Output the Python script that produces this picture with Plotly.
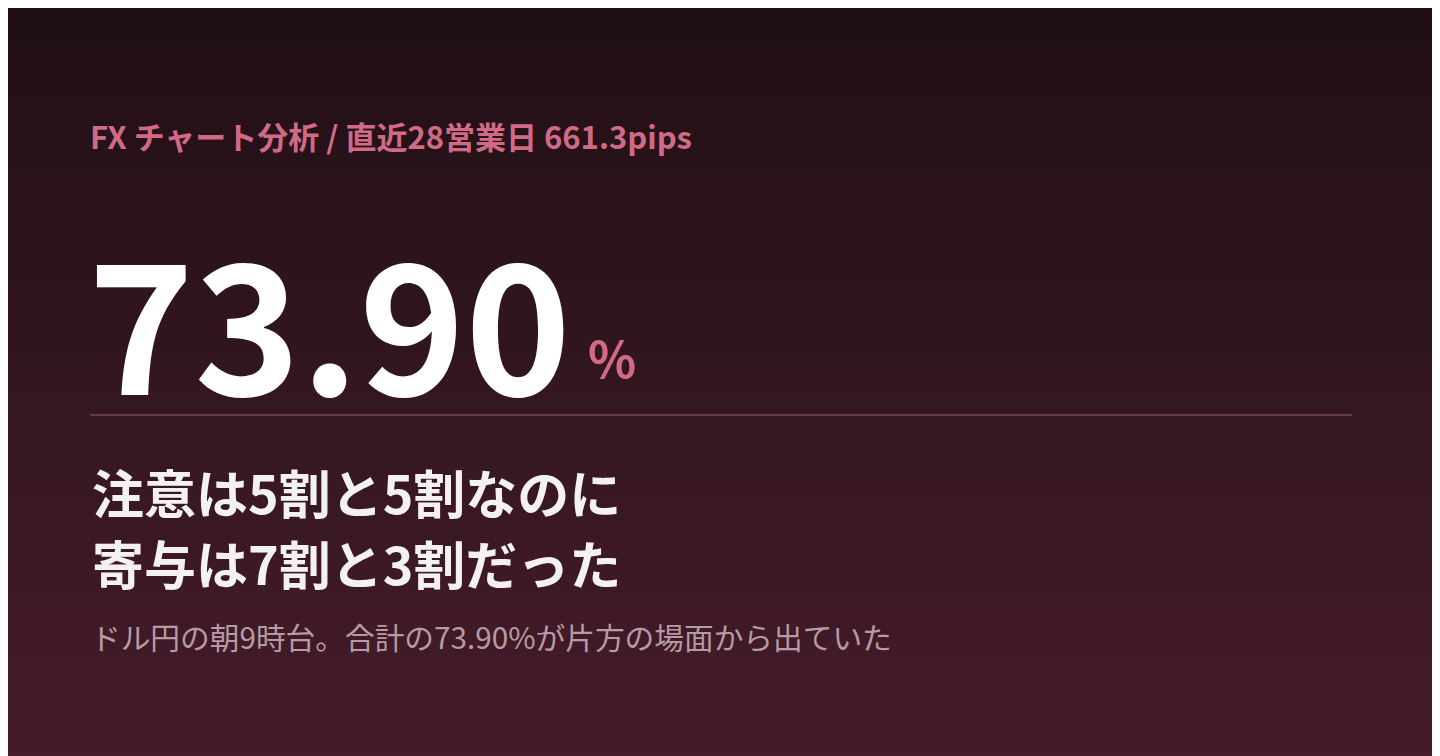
import plotly.graph_objects as go

# card text
kicker = "FX チャート分析 / 直近28営業日 661.3pips"
share_value = "73.90"
share_unit = "%"
headline = ["注意は5割と5割なのに", "寄与は7割と3割だった"]
note = "ドル円の朝9時台。合計の73.90%が片方の場面から出ていた"

# figure sits inside the page's 8px body margin
W, H = 1432, 748
FONT = "Noto Sans CJK JP"
PINK = "#d06a85"


def py(px):
    # pixel row from the top of the figure -> paper y
    return 1 - px / H


def px_x(px):
    return px / W


fig = go.Figure()

# gradient background
fig.add_trace(go.Scatter(
    x=[0, 1, 1, 0, 0], y=[0, 0, 1, 1, 0],
    mode="lines", line=dict(width=0),
    fill="toself",
    fillgradient=dict(type="vertical", start=0, stop=1,
                      colorscale=[[0, "#451c2a"], [0.5, "#33161f"], [1, "#200f16"]]),
    hoverinfo="skip", showlegend=False,
))

ann = []
ann.append(dict(text="<b>" + kicker + "</b>", x=px_x(80), y=py(127),
                font=dict(family=FONT, size=31, color=PINK)))
ann.append(dict(text="<b>" + share_value + "</b>", x=px_x(78), y=py(308),
                font=dict(family=FONT, size=180, color="#ffffff")))
ann.append(dict(text="<b>" + share_unit + "</b>", x=px_x(578), y=py(348),
                font=dict(family=FONT, size=50, color=PINK)))
for i, line in enumerate(headline):
    ann.append(dict(text="<b>" + line + "</b>", x=px_x(82), y=py(483 + 71 * i),
                    font=dict(family=FONT, size=52, color="#f4f1f3")))
ann.append(dict(text=note, x=px_x(81), y=py(628),
                font=dict(family=FONT, size=29.7, color="#b79aa5")))
for a in ann:
    a.update(xref="paper", yref="paper", xanchor="left", yanchor="middle",
             showarrow=False)

fig.update_layout(
    width=W, height=H,
    margin=dict(l=0, r=0, t=0, b=0),
    paper_bgcolor="#ffffff", plot_bgcolor="rgba(0,0,0,0)",
    xaxis=dict(range=[0, 1], visible=False, fixedrange=True, domain=[0, 1428 / W]),
    yaxis=dict(range=[0, 1], visible=False, fixedrange=True, domain=[0, 1]),
    annotations=ann,
    shapes=[dict(type="line", xref="paper", yref="paper",
                 x0=px_x(82), x1=px_x(1344), y0=py(407), y1=py(407),
                 line=dict(color="#6a3747", width=2))],
)

fig.write_html("out.html")
